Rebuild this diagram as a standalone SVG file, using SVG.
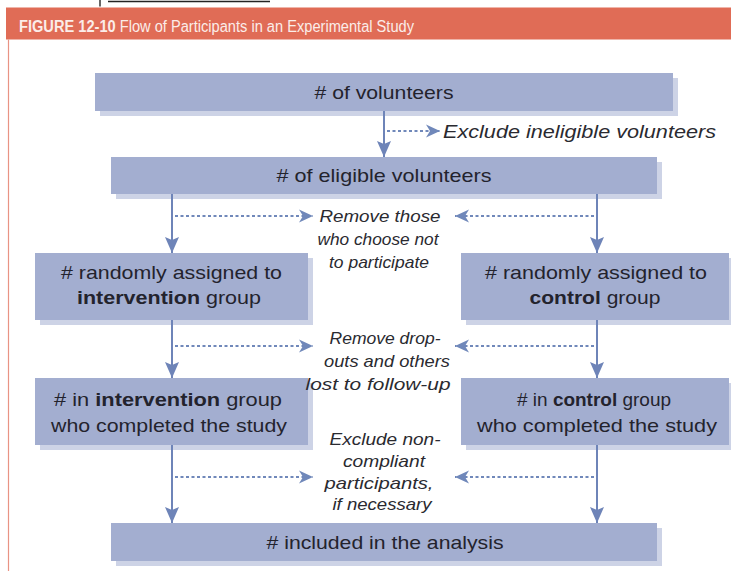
<svg xmlns="http://www.w3.org/2000/svg" width="731" height="571" viewBox="0 0 731 571">
<style>
.box{fill:#A3AED0}
.sh{fill:#CDD3E6}
.bt{font-family:"Liberation Sans",Arial,sans-serif;font-size:19px;fill:#23232d;text-anchor:middle}
.b{font-weight:bold}
.it{font-family:"Liberation Sans",Arial,sans-serif;font-size:17px;font-style:italic;fill:#2a2a30;text-anchor:middle}
.ln{stroke:#6E84B8;stroke-width:2;fill:none}
.dt{stroke:#7088BA;stroke-width:2;fill:none;stroke-dasharray:3 2.5}
</style>
<defs>
<marker id="ah" markerUnits="userSpaceOnUse" markerWidth="18" markerHeight="16" refX="16" refY="8" orient="auto">
<path d="M16,8 L0,1 L3,8 L0,15 Z" fill="#6E84B8"/>
</marker>
<marker id="dh" markerUnits="userSpaceOnUse" markerWidth="16" markerHeight="14" refX="14" refY="7" orient="auto">
<path d="M14,7 L0,0.5 L4,7 L0,13.5 Z" fill="#7088BA"/>
</marker>
</defs>
<rect x="0" y="0" width="731" height="571" fill="#ffffff"/>
<g id="header">
<line x1="100" y1="0" x2="100" y2="6.5" stroke="#333" stroke-width="1.5"/>
<line x1="108" y1="1.5" x2="270" y2="1.5" stroke="#222" stroke-width="1.6"/>
<rect x="6" y="7.5" width="725" height="32" fill="#E06C56"/>
<line x1="8.5" y1="39.5" x2="8.5" y2="571" stroke="#E99384" stroke-width="1.2"/>
<text x="19" y="32" font-family="'Liberation Sans',Arial,sans-serif" font-size="16" fill="#FBEDE9" textLength="395" lengthAdjust="spacingAndGlyphs"><tspan font-weight="bold">FIGURE 12-10</tspan> Flow of Participants in an Experimental Study</text>
</g>
<g id="n1">
<rect class="sh" x="100" y="78" width="578" height="38"/>
<rect class="box" x="95" y="73" width="578" height="38"/>
<text class="bt" x="384" y="99" textLength="139" lengthAdjust="spacingAndGlyphs"># of volunteers</text>
</g>
<g id="n2">
<rect class="sh" x="116" y="162" width="546" height="37"/>
<rect class="box" x="111" y="157" width="546" height="37"/>
<text class="bt" x="384" y="182" textLength="215" lengthAdjust="spacingAndGlyphs"># of eligible volunteers</text>
</g>
<g id="n3">
<rect class="sh" x="40" y="258" width="273" height="67"/>
<rect class="box" x="35" y="253" width="273" height="67"/>
<text class="bt" x="171.5" y="279" textLength="221" lengthAdjust="spacingAndGlyphs"># randomly assigned to</text>
<text class="bt" x="169" y="304" textLength="184" lengthAdjust="spacingAndGlyphs"><tspan class="b">intervention</tspan> group</text>
</g>
<g id="n4">
<rect class="sh" x="466" y="258" width="268" height="67"/>
<rect class="box" x="461" y="253" width="268" height="67"/>
<text class="bt" x="596" y="279" textLength="222" lengthAdjust="spacingAndGlyphs"># randomly assigned to</text>
<text class="bt" x="595" y="304" textLength="131" lengthAdjust="spacingAndGlyphs"><tspan class="b">control</tspan> group</text>
</g>
<g id="n5">
<rect class="sh" x="40" y="383" width="273" height="67"/>
<rect class="box" x="35" y="378" width="273" height="67"/>
<text class="bt" x="168" y="406" textLength="228" lengthAdjust="spacingAndGlyphs"># in <tspan class="b">intervention</tspan> group</text>
<text class="bt" x="169" y="432" textLength="236" lengthAdjust="spacingAndGlyphs">who completed the study</text>
</g>
<g id="n6">
<rect class="sh" x="466" y="383" width="268" height="67"/>
<rect class="box" x="461" y="378" width="268" height="67"/>
<text class="bt" x="594" y="406" textLength="154" lengthAdjust="spacingAndGlyphs"># in <tspan class="b">control</tspan> group</text>
<text class="bt" x="597" y="432" textLength="240" lengthAdjust="spacingAndGlyphs">who completed the study</text>
</g>
<g id="n7">
<rect class="sh" x="116" y="528" width="546" height="38"/>
<rect class="box" x="111" y="523" width="546" height="38"/>
<text class="bt" x="385" y="549" textLength="237" lengthAdjust="spacingAndGlyphs"># included in the analysis</text>
</g>
<g id="labels">
<text class="it" x="443" y="138" font-size="18" style="text-anchor:start;font-size:18px" textLength="273" lengthAdjust="spacingAndGlyphs">Exclude ineligible volunteers</text>
<text class="it" x="380" y="222" textLength="121" lengthAdjust="spacingAndGlyphs">Remove those</text>
<text class="it" x="378" y="245" textLength="121" lengthAdjust="spacingAndGlyphs">who choose not</text>
<text class="it" x="379" y="268" textLength="100" lengthAdjust="spacingAndGlyphs">to participate</text>
<text class="it" x="385" y="344" textLength="111" lengthAdjust="spacingAndGlyphs">Remove drop-</text>
<text class="it" x="387" y="367" textLength="126" lengthAdjust="spacingAndGlyphs">outs and others</text>
<text class="it" x="378" y="390" textLength="145" lengthAdjust="spacingAndGlyphs">lost to follow-up</text>
<text class="it" x="385" y="445" textLength="111" lengthAdjust="spacingAndGlyphs">Exclude non-</text>
<text class="it" x="384" y="467" textLength="82" lengthAdjust="spacingAndGlyphs">compliant</text>
<text class="it" x="379" y="489" textLength="109" lengthAdjust="spacingAndGlyphs">participants,</text>
<text class="it" x="382" y="510" textLength="99" lengthAdjust="spacingAndGlyphs">if necessary</text>
</g>
<g id="connectors">
<line class="ln" x1="384" y1="111" x2="384" y2="157" marker-end="url(#ah)"/>
<line class="ln" x1="172" y1="194" x2="172" y2="253" marker-end="url(#ah)"/>
<line class="ln" x1="597" y1="194" x2="597" y2="253" marker-end="url(#ah)"/>
<line class="ln" x1="172" y1="320" x2="172" y2="378" marker-end="url(#ah)"/>
<line class="ln" x1="597" y1="320" x2="597" y2="378" marker-end="url(#ah)"/>
<line class="ln" x1="172" y1="445" x2="172" y2="523" marker-end="url(#ah)"/>
<line class="ln" x1="597" y1="445" x2="597" y2="523" marker-end="url(#ah)"/>
<line class="dt" x1="387" y1="131" x2="440" y2="131" marker-end="url(#dh)"/>
<line class="dt" x1="175" y1="216" x2="313" y2="216" marker-end="url(#dh)"/>
<line class="dt" x1="594" y1="216" x2="455" y2="216" marker-end="url(#dh)"/>
<line class="dt" x1="175" y1="346" x2="313" y2="346" marker-end="url(#dh)"/>
<line class="dt" x1="594" y1="346" x2="455" y2="346" marker-end="url(#dh)"/>
<line class="dt" x1="175" y1="477" x2="313" y2="477" marker-end="url(#dh)"/>
<line class="dt" x1="594" y1="477" x2="455" y2="477" marker-end="url(#dh)"/>
</g>
</svg>
